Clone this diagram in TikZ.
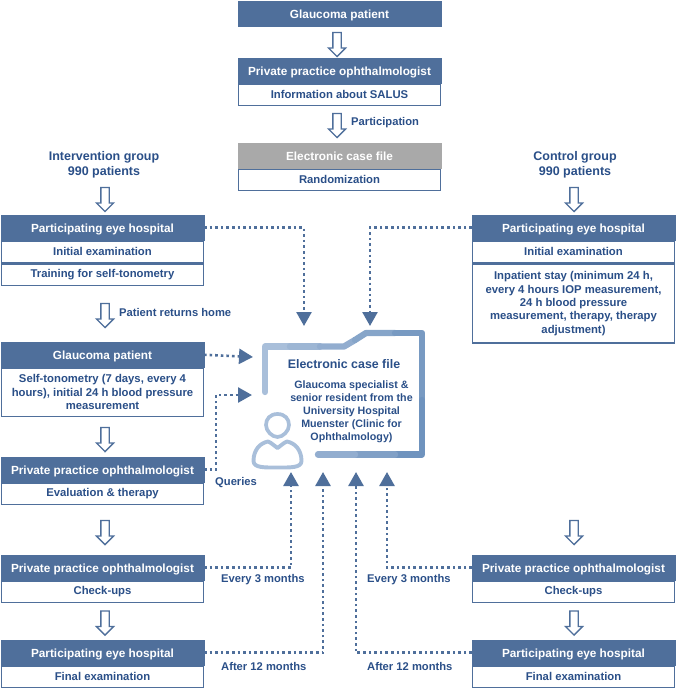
\documentclass[tikz,border=0pt]{standalone}
\usepackage{fontspec}
\setmainfont{Liberation Sans}
\usetikzlibrary{positioning,arrows.meta,shapes.arrows}
\definecolor{boxblue}{HTML}{4F6F9B}
\definecolor{textblue}{HTML}{2A4F88}
\definecolor{casegray}{HTML}{A9A9A9}
\definecolor{fileone}{HTML}{A9BFDA}
\definecolor{filethree}{HTML}{6F93BE}
\tikzset{
  headbox/.style={draw=boxblue,fill=boxblue,text=white,font=\bfseries\fontsize{11.8}{14}\selectfont,
    minimum width=203,minimum height=25.5,inner sep=0,anchor=north,line width=0pt,text height=8.5,text depth=0pt},
  bodybox/.style={draw=boxblue,line width=1.3pt,fill=white,text=textblue,font=\bfseries\fontsize{11.3}{13.4}\selectfont,
    minimum width=202,minimum height=21.6,inner sep=0,align=center,anchor=north},
  downarrow/.style={single arrow,draw=boxblue,fill=white,line width=1.3pt,shape border rotate=270,
    minimum height=24,inner sep=3.5,single arrow head extend=4.5,single arrow head indent=0},
  dotline/.style={boxblue,line width=2.6pt,dash pattern=on 2.6 off 3,
    -{Triangle[width=15,length=14]}},
  caption/.style={text=textblue,font=\bfseries\fontsize{11.2}{15}\selectfont,inner sep=0,align=center},
  grouplabel/.style={text=textblue,font=\bfseries\fontsize{12.5}{15}\selectfont,inner sep=0,align=center},
  filepath/.style={line width=6.3,line cap=round,line join=round},
}
\begin{document}
\begin{tikzpicture}[x=1pt,y=-1pt]
    \useasboundingbox (0,0) rectangle (676,691);
    % middle column
    \node[headbox] (patient) at (339.5,1) {Glaucoma patient};
    \node[headbox] (practice) at (339.5,58) {Private practice ophthalmologist};
    \node[bodybox,below=0pt of practice] (salus) {Information about SALUS};
    \node[headbox,fill=casegray,draw=casegray] (casefile) at (339.5,143) {Electronic case file};
    \node[bodybox,below=0pt of casefile] (random) {Randomization};
    \node[downarrow] (arrowa) at (337,42.5) {};
    \node[downarrow] (arrowb) at (337,123.5) {};
    \node[caption,anchor=west] (partlabel) at (351,122.5) {Participation};
    % intervention group
    \node[grouplabel] (intlabel) at (104,164.5) {Intervention group\\990 patients};
    \node[downarrow] (arrowc) at (105,197.5) {};
    \node[headbox] (lhospital) at (102.5,215) {Participating eye hospital};
    \node[bodybox,below=0pt of lhospital] (linitial) {Initial examination};
    \node[bodybox,below=0pt of linitial] (ltraining) {Training for self-tonometry};
    \node[downarrow] (arrowd) at (105,313.5) {};
    \node[caption,anchor=west] (homelabel) at (119,312) {Patient returns home};
    \node[headbox] (lpatient) at (102.5,342) {Glaucoma patient};
    \node[bodybox,below=0pt of lpatient,minimum height=48] (lself) {Self-tonometry (7 days, every 4\\hours), initial 24 h blood pressure\\measurement};
    \node[downarrow] (arrowe) at (105,437.5) {};
    \node[headbox] (lpractice) at (102.5,457) {Private practice ophthalmologist};
    \node[bodybox,below=0pt of lpractice] (leval) {Evaluation \& therapy};
    \node[downarrow] (arrowf) at (105,530.5) {};
    \node[headbox] (lcheck) at (102.5,555) {Private practice ophthalmologist};
    \node[bodybox,below=0pt of lcheck] (lcheckups) {Check-ups};
    \node[downarrow] (arrowg) at (105,621) {};
    \node[headbox] (lfinal) at (102.5,640) {Participating eye hospital};
    \node[bodybox,below=0pt of lfinal] (lexam) {Final examination};
    % control group
    \node[grouplabel] (ctrllabel) at (575,164.5) {Control group\\990 patients};
    \node[downarrow] (arrowh) at (574,197.5) {};
    \node[headbox] (rhospital) at (573.5,215) {Participating eye hospital};
    \node[bodybox,below=0pt of rhospital] (rinitial) {Initial examination};
    \node[bodybox,below=0pt of rinitial,minimum height=79] (rstay) {Inpatient stay (minimum 24 h,\\every 4 hours IOP measurement,\\24 h blood pressure\\measurement, therapy, therapy\\adjustment)};
    \node[downarrow] (arrowi) at (574,530.5) {};
    \node[headbox] (rcheck) at (573.5,555) {Private practice ophthalmologist};
    \node[bodybox,below=0pt of rcheck] (rcheckups) {Check-ups};
    \node[downarrow] (arrowj) at (574,621) {};
    \node[headbox] (rfinal) at (573.5,640) {Participating eye hospital};
    \node[bodybox,below=0pt of rfinal] (rexam) {Final examination};
    % electronic file with the person
    \draw[filepath,fileone] (265,392) -- (265,346.5) -- (290,346.5);
    \draw[filepath,fileone!80!filethree] (290,346.5) -- (320,346.5);
    \draw[filepath,fileone!60!filethree] (320,346.5) -- (344,346.5) -- (355,340);
    \draw[filepath,fileone!40!filethree] (355,340) -- (366,333) -- (395,333);
    \draw[filepath,fileone!15!filethree] (395,333) -- (422,333) -- (422,400);
    \draw[filepath,filethree] (422,400) -- (422,454.5) -- (395,454.5);
    \draw[filepath,fileone!30!filethree] (395,454.5) -- (355,454.5);
    \draw[filepath,fileone!60!filethree] (355,454.5) -- (318,454.5);
    \draw[fileone,line width=3.7] (277.5,414) .. controls (285,414) and (289,419) .. (289,425)
        .. controls (289,431) and (283,437) .. (277.5,437) .. controls (272,437) and (266,431) .. (266,425)
        .. controls (266,419) and (270,414) .. (277.5,414) -- cycle;
    \draw[fileone,line width=3.9,line join=round] (268,441.5) .. controls (272,443) and (274,446) .. (277.5,448)
        .. controls (281,446) and (283,443) .. (287,441.5) .. controls (295,443) and (301.5,450) .. (301.5,461)
        .. controls (301.5,468) and (290,467.5) .. (277.5,467.5) .. controls (265,467.5) and (253.5,468) .. (253.5,461)
        .. controls (253.5,450) and (260,443) .. (268,441.5) -- cycle;
    \node[caption,font=\bfseries\fontsize{12.4}{14}\selectfont] (efile) at (344,364) {Electronic case file};
    \node[caption,font=\bfseries\fontsize{10.7}{13}\selectfont] (specialist) at (351.5,412) {Glaucoma specialist \&\\senior resident from the\\University Hospital\\Muenster (Clinic for\\Ophthalmology)};
    % targets of the dotted lines
    \coordinate (fileleft) at (304,326);
    \coordinate (fileright) at (370,326);
    \coordinate (filepatient) at (253,357);
    \coordinate (filequery) at (252,395);
    \coordinate (upa) at (291,472);
    \coordinate (upb) at (323,472);
    \coordinate (upc) at (356,472);
    \coordinate (upd) at (387,472);
    \draw[dotline] (lhospital.east) -| (fileleft);
    \draw[dotline] (rhospital.west) -| (fileright);
    \draw[dotline] (lpatient.east) -- (filepatient);
    \draw[dotline] (lpractice.east) -- (216,469.75) |- (filequery);
    \draw[dotline] (lcheck.east) -| (upa);
    \draw[dotline] (lfinal.east) -| (upb);
    \draw[dotline] (rfinal.west) -| (upc);
    \draw[dotline] (rcheck.west) -| (upd);
    % labels at the dotted lines
    \node[caption,anchor=west] (querylabel) at (215,483) {Queries};
    \node[caption,anchor=west] (evla) at (221,580) {Every 3 months};
    \node[caption,anchor=west] (evlb) at (367,580) {Every 3 months};
    \node[caption,anchor=west] (afla) at (221,666) {After 12 months};
    \node[caption,anchor=west] (aflb) at (367,666) {After 12 months};
\end{tikzpicture}
\end{document}
